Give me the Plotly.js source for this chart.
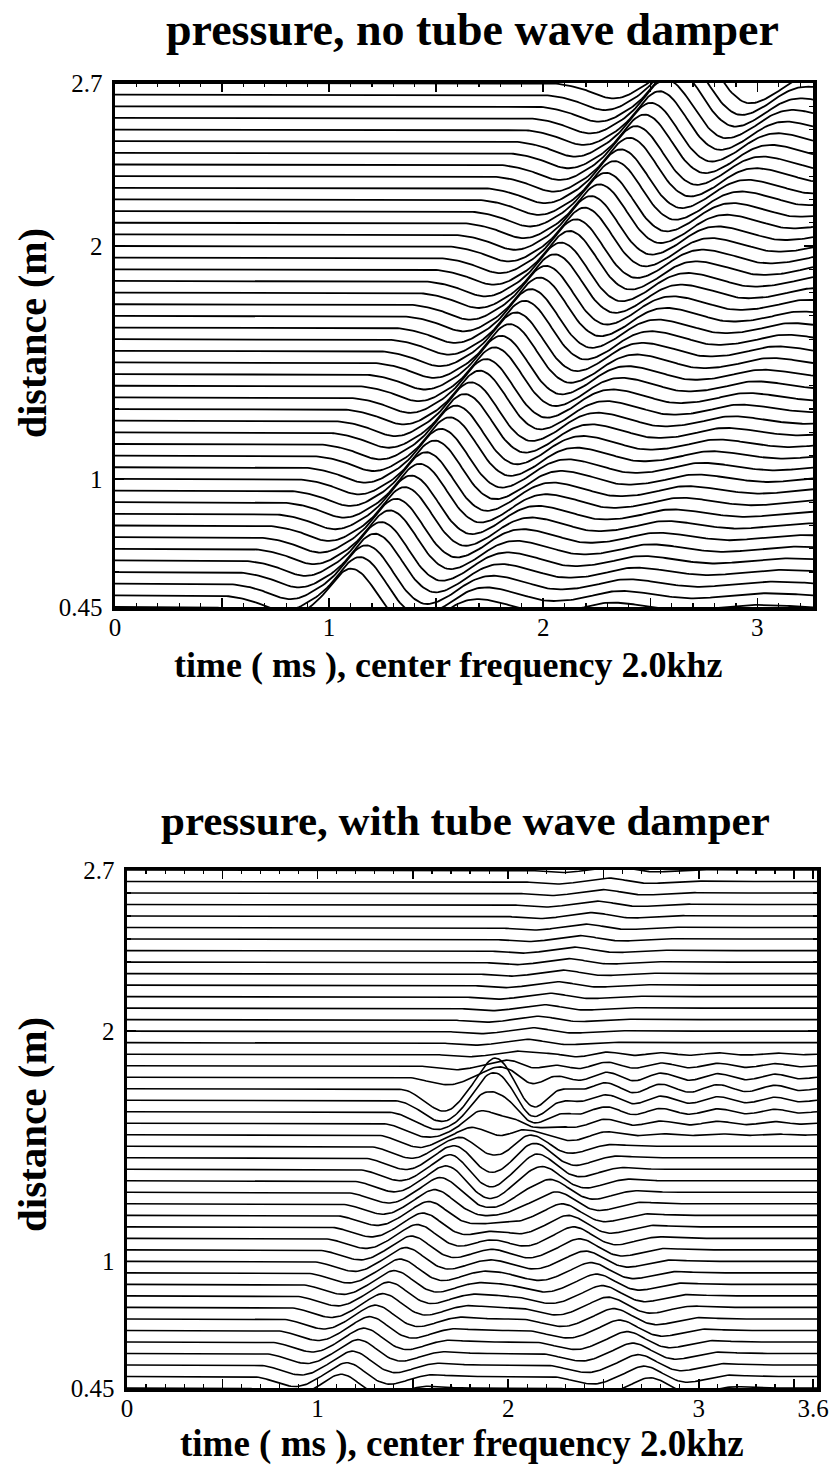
<!DOCTYPE html>
<html><head><meta charset="utf-8">
<script src="https://cdn.plot.ly/plotly-3.0.1.min.js"></script>
<style>body{margin:0;background:#fff}#chart{width:837px;height:1469px}</style>
</head><body><div id="chart"></div>
<script>
// ---- trace positions (m) ----
const distance = [0.45,0.50,0.55,0.60,0.65,0.70,0.75,0.80,0.85,0.90,0.95,1.00,1.05,1.10,1.15,1.20,1.25,1.30,1.35,1.40,1.45,1.50,1.55,1.60,1.65,1.70,1.75,1.80,1.85,1.90,1.95,2.00,2.05,2.10,2.15,2.20,2.25,2.30,2.35,2.40,2.45,2.50,2.55,2.60,2.65,2.70];

// ---- top panel: no tube wave damper ----
const topPeakTime = [1.10,1.14,1.17,1.21,1.24,1.28,1.31,1.35,1.38,1.42,1.45,1.49,1.52,1.56,1.59,1.63,1.66,1.70,1.73,1.77,1.80,1.84,1.87,1.91,1.94,1.98,2.01,2.05,2.08,2.12,2.15,2.19,2.22,2.26,2.29,2.33,2.36,2.40,2.43,2.47,2.50,2.54,2.57,2.61,2.64,2.68];
const topPeakAmp = [0.165,0.165,0.165,0.165,0.165,0.165,0.165,0.165,0.165,0.165,0.165,0.165,0.165,0.165,0.165,0.165,0.165,0.165,0.165,0.165,0.165,0.165,0.165,0.165,0.165,0.165,0.165,0.165,0.165,0.165,0.165,0.165,0.165,0.165,0.165,0.165,0.165,0.165,0.165,0.165,0.165,0.165,0.165,0.165,0.165,0.165];
// pulse shape (ms from peak, fraction of peak)
const topShapeT = [-0.70,-0.60,-0.50,-0.42,-0.36,-0.30,-0.24,-0.19,-0.14,-0.09,-0.05,0,0.05,0.10,0.15,0.20,0.26,0.32,0.40,0.48,0.55,0.62,0.72,0.85,0.95,1.05,1.18,1.28,1.40,1.55,1.70,1.85,2.00,2.20,2.50];
const topShapeV = [0,-0.03,-0.15,-0.32,-0.40,-0.35,-0.18,0.0,0.25,0.58,0.85,1.0,0.88,0.55,0.12,-0.25,-0.50,-0.50,-0.28,0.02,0.18,0.20,0.08,-0.12,-0.14,-0.06,0.10,0.10,0.0,-0.08,-0.03,0.05,0.04,-0.02,0];

// ---- bottom panel: with tube wave damper ----
const botUpTime = [1.12,1.15,1.18,1.21,1.24,1.27,1.30,1.34,1.37,1.40,1.43,1.46,1.49,1.52,1.55,1.58,1.61,1.64,1.67,1.70,1.73,1.76,1.80,1.83,1.86,1.89,1.92,1.95,1.99,2.06,2.09,2.12,2.15,2.18,2.21,2.25,2.28,2.31,2.34,2.37,2.40,2.43,2.46,2.49,2.52,2.55];
const botUpAmp = [0.06,0.06,0.06,0.06,0.06,0.06,0.06,0.06,0.06,0.06,0.06,0.06,0.06,0.06,0.06,0.06,0.062,0.064,0.066,0.068,0.07,0.072,0.075,0.078,0.08,0.08,0.075,0.045,0.024,0.015,0.015,0.015,0.015,0.015,0.015,0.015,0.015,0.015,0.015,0.015,0.015,0.015,0.015,0.015,0.015,0.015];
const botDownTime = [2.74,2.71,2.68,2.65,2.62,2.58,2.55,2.52,2.49,2.46,2.43,2.40,2.37,2.34,2.31,2.28,2.25,2.22,2.18,2.15,2.12,2.09,2.06,2.03,2.00,1.97,1.94,null,null,null,null,null,null,null,null,null,null,null,null,null,null,null,null,null,null,null];
const botDownAmp = [0.045,0.045,0.045,0.045,0.045,0.045,0.045,0.045,0.045,0.045,0.045,0.045,0.048,0.05,0.05,0.05,0.052,0.054,0.056,0.058,0.06,0.06,0.06,0.06,0.06,0.06,0.06,0,0,0,0,0,0,0,0,0,0,0,0,0,0,0,0,0,0,0];
// ringing behind the damper, read as one sequence (ms, relative value)
const ringT = [2.02,2.12,2.24,2.38,2.52,2.66,2.80,2.95,3.10,3.25,3.40,3.52,3.62];
const ringV = [0,-0.5,1.0,-0.8,0.9,-0.7,0.8,-0.6,0.7,-0.5,0.6,-0.3,0];
const ringAmp = [0,0,0,0,0,0,0,0,0,0,0,0,0,0,0,0,0,0,0,0,0,0,0.006,0.012,0.018,0.022,0.025,0.022,0.015,0.008,0,0,0,0,0,0,0,0,0,0,0,0,0,0,0,0];
const botShapeT = [-0.55,-0.45,-0.36,-0.28,-0.22,-0.16,-0.11,-0.05,0,0.05,0.10,0.16,0.22,0.28,0.36,0.44,0.52,0.62];
const botShapeV = [0,-0.08,-0.45,-0.72,-0.62,-0.22,0.2,0.75,1.0,0.8,0.3,-0.28,-0.55,-0.45,-0.1,0.12,0.08,0];

const topTimeMax = 3.26, botTimeMax = 3.62;

// smooth evaluation of a read shape (cubic Hermite through its points)
function shapeAt(T, V, x) {
  const n = T.length;
  if (x <= T[0] || x >= T[n-1]) return 0;
  let i = 0;
  while (i < n - 2 && x >= T[i+1]) i++;
  const h = T[i+1] - T[i];
  const m0 = i === 0 ? (V[1]-V[0])/(T[1]-T[0]) : (V[i+1]-V[i-1])/(T[i+1]-T[i-1]);
  const m1 = i+1 === n-1 ? (V[n-1]-V[n-2])/(T[n-1]-T[n-2]) : (V[i+2]-V[i])/(T[i+2]-T[i]);
  const s = (x - T[i]) / h, s2 = s*s, s3 = s2*s;
  return (2*s3-3*s2+1)*V[i] + (s3-2*s2+s)*h*m0 + (-2*s3+3*s2)*V[i+1] + (s3-s2)*h*m1;
}

const traces = [];
// top panel
for (let k = 0; k < distance.length; k++) {
  const xs = [], ys = [];
  const N = Math.round(topTimeMax / 0.01);
  for (let j = 0; j <= N; j++) {
    const t = j * 0.01;
    xs.push(t);
    ys.push(distance[k] + topPeakAmp[k] * shapeAt(topShapeT, topShapeV, t - topPeakTime[k]));
  }
  traces.push({x: xs, y: ys, xaxis: 'x', yaxis: 'y', mode: 'lines', line: {color: '#000', width: 1.8}, hoverinfo: 'skip'});
}
// bottom panel
for (let k = 0; k < distance.length; k++) {
  const xs = [], ys = [];
  const N = Math.round(botTimeMax / 0.01);
  for (let j = 0; j <= N; j++) {
    const t = j * 0.01;
    let v = botUpAmp[k] * shapeAt(botShapeT, botShapeV, t - botUpTime[k]);
    if (botDownTime[k] !== null) v += botDownAmp[k] * shapeAt(botShapeT, botShapeV, t - botDownTime[k]);
    if (ringAmp[k] > 0) v += ringAmp[k] * shapeAt(ringT, ringV, t);
    xs.push(t);
    ys.push(distance[k] + v);
  }
  traces.push({x: xs, y: ys, xaxis: 'x2', yaxis: 'y2', mode: 'lines', line: {color: '#000', width: 1.6}, hoverinfo: 'skip'});
}

const W = 837, H = 1469;
const serif = 'Liberation Serif, Times New Roman, serif';
const tickFont = {family: serif, size: 25, color: '#000'};
function xAxis(dom, max, vals, text) {
  return {domain: dom, range: [0, max], tickvals: vals, ticktext: text, ticks: 'inside', ticklen: 9, tickwidth: 1.5,
    tickcolor: '#000', minor: {dtick: 0.1, tick0: 0, ticks: 'inside', ticklen: 4, tickwidth: 1.2, tickcolor: '#000'},
    showline: true, linewidth: 3.5, linecolor: '#000', mirror: 'ticks', showgrid: false, zeroline: false,
    tickfont: tickFont, ticklabelstandoff: -5, fixedrange: true};
}
function yAxis(dom) {
  return {domain: dom, range: [0.45, 2.7], tickvals: [0.45, 1, 2, 2.7], ticktext: ['0.45', '1', '2', '2.7'],
    ticks: 'inside', ticklen: 9, tickwidth: 1.5, tickcolor: '#000',
    minor: {dtick: 0.1, tick0: 0, ticks: 'inside', ticklen: 4, tickwidth: 1.2, tickcolor: '#000'},
    showline: true, linewidth: 3.5, linecolor: '#000', mirror: 'ticks', showgrid: false, zeroline: false,
    tickfont: tickFont, ticklabelstandoff: 4, fixedrange: true};
}
function ann(text, px, py, size, angle) {
  return {text: '<b>' + text + '</b>', x: px / W, y: 1 - py / H, xref: 'paper', yref: 'paper',
    xanchor: 'center', yanchor: 'middle', showarrow: false, textangle: angle || 0, borderpad: 0,
    font: {family: serif, size: size, color: '#000'}};
}

const layout = {
  width: W, height: H, margin: {l: 0, r: 0, t: 0, b: 0}, showlegend: false,
  paper_bgcolor: '#fff', plot_bgcolor: '#fff',
  xaxis: xAxis([115/W, 813/W], topTimeMax, [0,0.5,1,1.5,2,2.5,3], ['0','','1','','2','','3']),
  yaxis: yAxis([1-607/H, 1-83/H]),
  xaxis2: Object.assign(xAxis([127/W, 817/W], botTimeMax, [0,0.5,1,1.5,2,2.5,3,3.5,3.6], ['0','','1','','2','','3','','3.6']), {anchor: 'y2'}),
  yaxis2: Object.assign(yAxis([1-1388/H, 1-870/H]), {anchor: 'x2'}),
  annotations: [
    ann('pressure, no tube wave damper', 472, 30, 46),
    ann('time ( ms ), center frequency 2.0khz', 448, 665, 36),
    ann('distance (m)', 32, 333, 40, -90),
    ann('pressure, with tube wave damper', 465, 820, 43),
    ann('time ( ms ), center frequency 2.0khz', 462, 1444, 37),
    ann('distance (m)', 32, 1125, 41, -90)
  ]
};
layout.xaxis.anchor = 'y';
layout.yaxis.anchor = 'x';

Plotly.newPlot('chart', traces, layout, {staticPlot: true});
</script>
</body></html>
